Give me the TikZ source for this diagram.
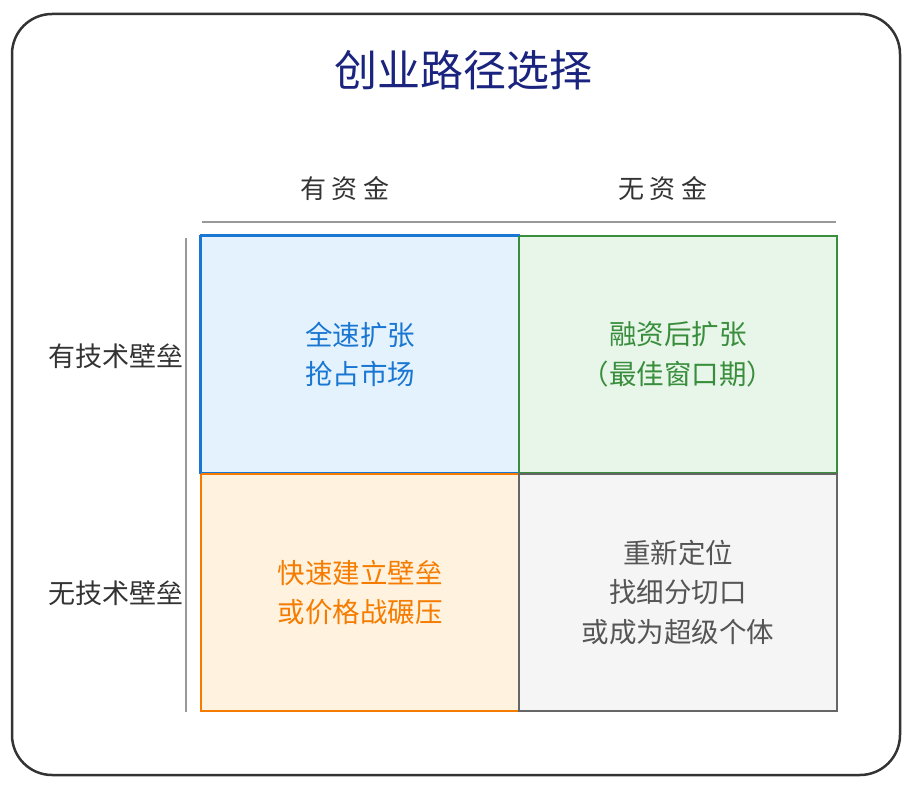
\documentclass[tikz,border=0pt]{standalone}
\usepackage{fontspec}
\newfontfamily\cjk{Noto Sans CJK SC}
\definecolor{navy}{HTML}{1A237E}
\definecolor{bstroke}{HTML}{1976D2}\definecolor{bfill}{HTML}{E3F2FD}
\definecolor{gstroke}{HTML}{388E3C}\definecolor{gfill}{HTML}{E8F5E9}
\definecolor{ostroke}{HTML}{F57C00}\definecolor{ofill}{HTML}{FFF3E0}
\definecolor{kstroke}{HTML}{666666}\definecolor{kfill}{HTML}{F5F5F5}
\definecolor{ktext}{HTML}{555555}
\definecolor{dark}{HTML}{333333}
\definecolor{axis}{HTML}{999999}
\tikzset{
  quad/.style={line width=2.2pt, inner sep=0pt, minimum width=318pt, minimum height=237pt},
  qtext/.style={font=\cjk\fontsize{27.5}{39.5}\selectfont, align=center},
  hdr/.style={font=\cjk\fontsize{26}{30}\selectfont, text=dark},
  rowl/.style={font=\cjk\fontsize{27}{32}\selectfont, text=dark},
}
\begin{document}
\begin{tikzpicture}[x=1pt,y=-1pt]
\useasboundingbox (0,0) rectangle (913,786);
\draw[line width=2.5pt, draw=dark, rounded corners=40pt] (12,14) rectangle (900,775);
\node[font=\cjk\fontsize{43}{48}\selectfont, text=navy] (title) at (463,70) {创业路径选择};
\node[hdr] (h1) at (345,189) {有\hspace{6pt}资\hspace{6pt}金};
\node[hdr] (h2) at (663,189) {无\hspace{6pt}资\hspace{6pt}金};
\coordinate (tl) at (202,222); \coordinate (tr) at (836,222);
\draw[axis, line width=1.5pt] (tl) -- (tr);
\coordinate (lt) at (186,238); \coordinate (lb) at (186,712);
\draw[axis, line width=1.5pt] (lt) -- (lb);
\node[rowl] (r1) at (116,356) {有技术壁垒};
\node[rowl] (r2) at (116,593) {无技术壁垒};
\node[quad, draw=bstroke, fill=bfill] (q1) at (360,354.5) {};
\node[quad, draw=gstroke, fill=gfill] (q2) at (678,354.5) {};
\node[quad, draw=ostroke, fill=ofill] (q3) at (360,592.5) {};
\node[quad, draw=kstroke, fill=kfill] (q4) at (678,592.5) {};
\draw[bstroke, line width=2.2pt] (q1.north west) -- (q1.north east);
\draw[bstroke, line width=2.2pt] (q1.north west) -- (q1.south west);
\node[qtext, text=bstroke] (t1) at (q1) {全速扩张\\抢占市场};
\node[qtext, text=gstroke] (t2) at (q2) {融资后扩张\\（最佳窗口期）};
\node[qtext, text=ostroke] (t3) at (q3) {快速建立壁垒\\或价格战碾压};
\node[qtext, text=ktext] (t4) at (q4) {重新定位\\找细分切口\\或成为超级个体};
\end{tikzpicture}
\end{document}
